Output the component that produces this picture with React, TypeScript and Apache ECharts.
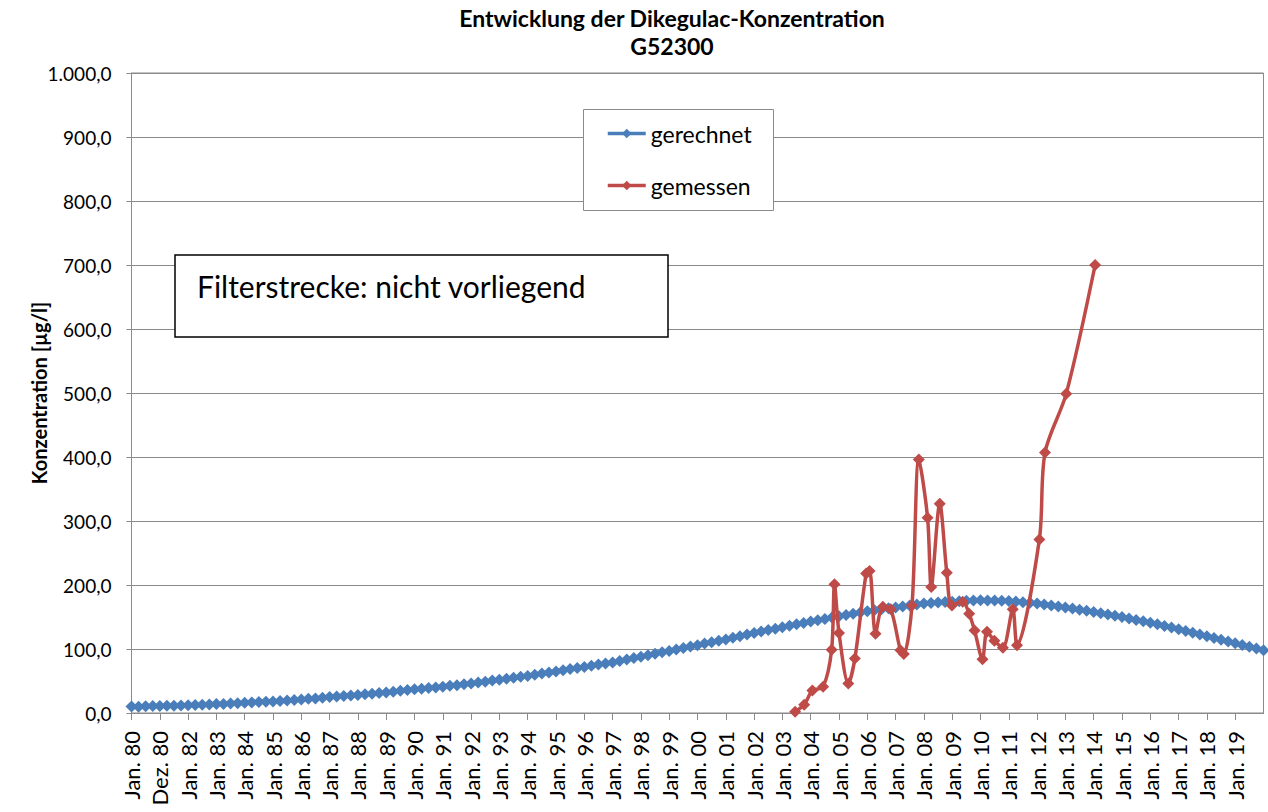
import React, { useEffect, useRef } from 'react';
import * as echarts from 'echarts';

const tickLabels = [
  'Jan. 80', 'Dez. 80', 'Jan. 82', 'Jan. 83', 'Jan. 84', 'Jan. 85', 'Jan. 86', 'Jan. 87', 'Jan. 88', 'Jan. 89',
  'Jan. 90', 'Jan. 91', 'Jan. 92', 'Jan. 93', 'Jan. 94', 'Jan. 95', 'Jan. 96', 'Jan. 97', 'Jan. 98', 'Jan. 99',
  'Jan. 00', 'Jan. 01', 'Jan. 02', 'Jan. 03', 'Jan. 04', 'Jan. 05', 'Jan. 06', 'Jan. 07', 'Jan. 08', 'Jan. 09',
  'Jan. 10', 'Jan. 11', 'Jan. 12', 'Jan. 13', 'Jan. 14', 'Jan. 15', 'Jan. 16', 'Jan. 17', 'Jan. 18', 'Jan. 19',
];

const startYear = 1980;
const endYear = 2020;

// gerechnet: quarterly values (Jan, Apr, Jul, Oct) from 1980 to Jan 2020
const gerechnet = [
  10.0, 9.6, 10.4, 10.8,
  11.0, 11.5, 11.2, 11.8,
  12.0, 12.6, 13.0, 13.4,
  14.0, 14.2, 15.0, 15.4,
  16.0, 16.6, 17.0, 17.6,
  18.0, 18.9, 19.5, 20.3,
  21.0, 22.1, 22.8, 24.0,
  25.0, 25.6, 26.6, 27.2,
  28.0, 29.2, 30.0, 31.1,
  32.0, 33.3, 34.6, 35.8,
  37.0, 37.9, 39.2, 40.0,
  41.0, 42.4, 43.5, 44.8,
  46.0, 47.6, 48.9, 50.6,
  52.0, 53.4, 55.0, 56.5,
  58.0, 59.9, 61.6, 63.4,
  65.0, 66.9, 68.6, 70.4,
  72.0, 73.9, 75.6, 77.3,
  79.0, 81.3, 83.5, 85.8,
  88.0, 90.4, 92.6, 94.8,
  97.0, 99.3, 101.6, 103.8,
  106.0, 108.4, 110.5, 112.8,
  115.0, 117.6, 120.0, 122.5,
  125.0, 127.3, 129.6, 131.8,
  134.0, 136.4, 138.6, 140.8,
  143.0, 145.1, 147.0, 149.1,
  151.0, 153.1, 155.0, 157.1,
  159.0, 160.6, 162.0, 163.6,
  165.0, 166.6, 168.0, 169.6,
  171.0, 171.8, 172.6, 173.3,
  174.0, 174.6, 175.2, 175.6,
  176.0, 175.8, 175.6, 175.3,
  175.0, 174.1, 173.0, 172.1,
  171.0, 169.5, 168.0, 166.5,
  165.0, 163.3, 161.5, 159.8,
  158.0, 156.0, 154.0, 152.0,
  150.0, 147.8, 145.5, 143.3,
  141.0, 138.5, 136.0, 133.5,
  131.0, 128.3, 125.5, 122.8,
  120.0, 117.3, 114.5, 111.8,
  109.0, 106.3, 103.5, 100.8,
  98.0,
];

// gemessen: sample dates (decimal years) and values
const gemessenDates = [
  2003.45, 2003.77, 2004.06, 2004.44, 2004.74, 2004.84, 2005.0, 2005.33, 2005.56, 2005.96,
  2006.08, 2006.29, 2006.55, 2006.83, 2007.17, 2007.29, 2007.58, 2007.82, 2008.13, 2008.26,
  2008.56, 2008.81, 2008.99, 2009.37, 2009.6, 2009.79, 2010.07, 2010.23, 2010.49, 2010.79,
  2011.14, 2011.29, 2012.08, 2012.28, 2013.03, 2014.05,
];
const gemessenValues = [
  2, 13, 35, 41, 99, 201, 125, 46, 85, 218,
  222, 124, 166, 162, 98, 92, 168, 396, 305, 197,
  327, 219, 168, 174, 155, 129, 84, 127, 113, 102,
  162, 106, 271, 407, 499, 700,
];

const fmtDe = (v: number) => {
  const s = v.toFixed(1);
  const [i, d] = s.split('.');
  return i.replace(/\B(?=(\d{3})+(?!\d))/g, '.') + ',' + d;
};

const FONT = 'Lato, "Open Sans", sans-serif';
const BLUE = '#4A7EBB';
const RED = '#BE4B48';
const GRID = '#8a8a8a';

export default function App() {
  const ref = useRef<HTMLDivElement>(null);
  useEffect(() => {
    if (!ref.current) return;
    const chart = echarts.init(ref.current, null, { renderer: 'svg' });
    const blueData = gerechnet.map((v, i) => [startYear + i / 4, v]);
    const redData = gemessenDates.map((d, i) => [d, gemessenValues[i]]);
    chart.setOption({
      animation: false,
      backgroundColor: '#ffffff',
      textStyle: { fontFamily: FONT },
      title: {
        text: 'Entwicklung der Dikegulac-Konzentration\nG52300',
        left: 672,
        textAlign: 'center',
        top: 4,
        padding: 0,
        textStyle: { fontFamily: FONT, fontWeight: 'bold', fontSize: 23, lineHeight: 28, color: '#000' },
      },
      grid: {
        left: 131.5,
        right: 4.5,
        top: 73,
        bottom: 99,
        show: true,
        borderColor: GRID,
        borderWidth: 1,
        backgroundColor: 'transparent',
      },
      legend: {
        data: ['gerechnet', 'gemessen'],
        orient: 'vertical',
        left: 606,
        top: 122,
        padding: 0,
        itemWidth: 38,
        itemHeight: 12,
        itemGap: 29,
        z: 20,
        lineStyle: { width: 3.5 },
        textStyle: { fontFamily: FONT, fontSize: 23, color: '#000' },
      },
      xAxis: {
        type: 'value',
        min: startYear,
        max: endYear,
        interval: 1,
        axisLine: { show: true, onZero: false, lineStyle: { color: GRID, width: 1 } },
        axisTick: { show: true, length: 7, lineStyle: { color: GRID } },
        splitLine: { show: false },
        axisLabel: {
          rotate: 90,
          margin: 18,
          fontSize: 22,
          fontFamily: FONT,
          color: '#000',
          showMaxLabel: false,
          formatter: (v: number) => tickLabels[Math.round(v - startYear)] ?? '',
        },
      },
      yAxis: {
        type: 'value',
        min: 0,
        max: 1000,
        interval: 100,
        name: 'Konzentration [µg/l]',
        nameLocation: 'middle',
        nameGap: 83,
        nameMoveOverlap: false,
        nameTextStyle: { fontFamily: FONT, fontWeight: 'bold', fontSize: 20, color: '#000' },
        axisLine: { show: true, lineStyle: { color: GRID, width: 1 } },
        axisTick: { show: true, length: 5, lineStyle: { color: GRID } },
        splitLine: { show: true, lineStyle: { color: GRID, width: 1 } },
        axisLabel: {
          margin: 20,
          fontSize: 19,
          fontFamily: FONT,
          color: '#000',
          formatter: (v: number) => fmtDe(v),
        },
      },
      graphic: [
        {
          type: 'rect',
          shape: { x: 583.5, y: 109.5, width: 190, height: 101 },
          style: { fill: '#fff', stroke: '#8a8a8a', lineWidth: 1 },
          z: 5,
        },
        {
          type: 'rect',
          shape: { x: 175, y: 255, width: 493, height: 82 },
          style: { fill: '#fff', stroke: '#000', lineWidth: 1.5 },
          z: 5,
        },
        {
          type: 'text',
          x: 197,
          y: 286,
          style: {
            text: 'Filterstrecke: nicht vorliegend',
            fontFamily: FONT,
            fontSize: 30,
            fill: '#000',
            verticalAlign: 'middle',
          },
          z: 6,
        },
      ],
      series: [
        {
          name: 'gerechnet',
          type: 'line',
          data: blueData,
          symbol: 'diamond',
          symbolSize: 12,
          showSymbol: true,
          lineStyle: { color: BLUE, width: 3.5 },
          itemStyle: { color: BLUE, borderWidth: 0 },
          z: 3,
        },
        {
          name: 'gemessen',
          type: 'line',
          data: redData,
          symbol: 'diamond',
          symbolSize: 12,
          smooth: 0.3,
          showSymbol: true,
          lineStyle: { color: RED, width: 3.5 },
          itemStyle: { color: RED, borderWidth: 0 },
          z: 4,
        },
      ],
    });
    return () => chart.dispose();
  }, []);
  return <div ref={ref} style={{ position: 'fixed', left: 0, top: 0, width: 1268, height: 812 }} />;
}
